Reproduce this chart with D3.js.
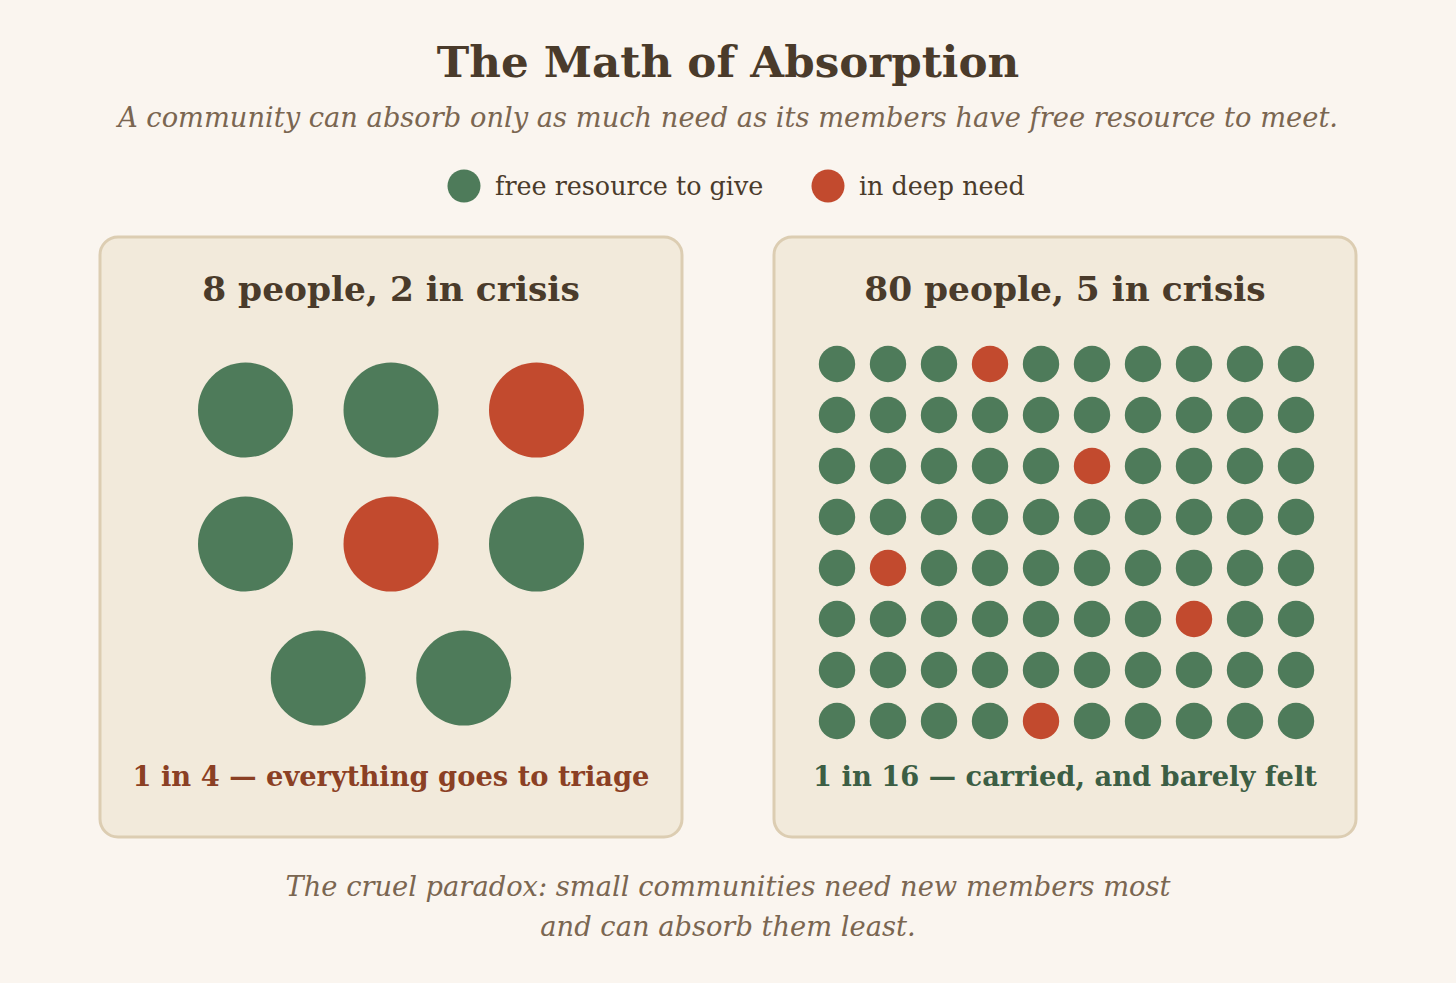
<!DOCTYPE html>
<html>
<head>
<meta charset="utf-8">
<script src="https://cdn.jsdelivr.net/npm/d3@7"></script>
<style>
  html, body { margin: 0; padding: 0; background: #faf5ef; }
  svg { display: block; }
  text { font-family: "DejaVu Serif", serif; }
</style>
</head>
<body>
<script>
// Datos de cada panel
const panelTitles = ["8 people, 2 in crisis", "80 people, 5 in crisis"];
const panelCaptions = ["1 in 4 \u2014 everything goes to triage", "1 in 16 \u2014 carried, and barely felt"];
const smallRows = [3, 3, 2];                 // personas por fila en la comunidad pequeña
const smallCrisis = [2, 4];                  // índices de personas en crisis
const bigCols = 10;
const bigRowsCount = 8;
const bigCrisis = [3, 25, 41, 57, 74];       // índices (fila*10+col) de personas en crisis
const legendLabels = ["free resource to give", "in deep need"];
const footerLines = [
  "The cruel paradox: small communities need new members most",
  "and can absorb them least."
];

const width = 1456;
const height = 983;
const green = "#4e7b5a";
const red = "#c24a2e";
const ink = "#4a3b2b";
const muted = "#7a6651";

const svg = d3.select("body").append("svg")
  .attr("width", width)
  .attr("height", height);

svg.append("rect").attr("width", width).attr("height", height).attr("fill", "#faf5ef");

// Título y subtítulo
svg.append("text")
  .attr("x", width / 2).attr("y", 77)
  .attr("text-anchor", "middle")
  .attr("font-size", 43.6).attr("font-weight", "bold")
  .attr("fill", ink)
  .text("The Math of Absorption");

svg.append("text")
  .attr("x", width / 2).attr("y", 127)
  .attr("text-anchor", "middle")
  .attr("font-size", 27.3).attr("font-style", "italic")
  .attr("fill", muted)
  .text("A community can absorb only as much need as its members have free resource to meet.");

// Leyenda
const legendX = d3.scaleOrdinal().domain(legendLabels).range([464, 828]);
const legendColor = d3.scaleOrdinal().domain(legendLabels).range([green, red]);
const legend = svg.selectAll("g.legend").data(legendLabels).enter()
  .append("g").attr("class", "legend")
  .attr("transform", d => `translate(${legendX(d)},186)`);
legend.append("circle").attr("r", 16.5).attr("fill", d => legendColor(d));
legend.append("text")
  .attr("x", 31).attr("y", 9)
  .attr("font-size", 25.4).attr("fill", ink)
  .text(d => d);

// Paneles
const panelX = d3.scaleBand().domain([0, 1]).range([100, 1356]).paddingInner(0.1365);
const panelTop = 237, panelH = 600;
const pw = panelX.bandwidth();

const panels = svg.selectAll("g.panel").data(panelTitles).enter()
  .append("g").attr("class", "panel")
  .attr("transform", (d, i) => `translate(${panelX(i)},${panelTop})`);

panels.append("rect")
  .attr("width", pw).attr("height", panelH)
  .attr("rx", 18).attr("ry", 18)
  .attr("fill", "#f2eadb")
  .attr("stroke", "#dccdb2").attr("stroke-width", 3);

panels.append("text")
  .attr("x", pw / 2).attr("y", 64)
  .attr("text-anchor", "middle")
  .attr("font-size", 34.4).attr("font-weight", "bold")
  .attr("fill", ink)
  .text(d => d);

panels.append("text")
  .attr("x", pw / 2).attr("y", 549)
  .attr("text-anchor", "middle")
  .attr("font-size", 27.3).attr("font-weight", "bold")
  .attr("fill", (d, i) => i === 0 ? "#8b4024" : "#3c5e44")
  .text((d, i) => panelCaptions[i]);

// Comunidad pequeña
const smallPeople = [];
smallRows.forEach((n, r) => {
  for (let c = 0; c < n; c++) smallPeople.push({ row: r, col: c, n: n });
});
smallPeople.forEach((p, i) => p.crisis = smallCrisis.includes(i));

const smallStep = 145.5;
const smallY = d3.scalePoint().domain(d3.range(smallRows.length)).range([173, 441]);

panels.filter((d, i) => i === 0).selectAll("circle")
  .data(smallPeople).enter()
  .append("circle")
  .attr("cx", p => pw / 2 + (p.col - (p.n - 1) / 2) * smallStep)
  .attr("cy", p => smallY(p.row))
  .attr("r", 47.5)
  .attr("fill", p => p.crisis ? red : green);

// Comunidad grande
const bigPeople = d3.range(bigCols * bigRowsCount).map(i => ({
  row: Math.floor(i / bigCols), col: i % bigCols, crisis: bigCrisis.includes(i)
}));
const bigX = d3.scalePoint().domain(d3.range(bigCols)).range([63, 522]);
const bigY = d3.scalePoint().domain(d3.range(bigRowsCount)).range([127, 484]);

panels.filter((d, i) => i === 1).selectAll("circle")
  .data(bigPeople).enter()
  .append("circle")
  .attr("cx", p => bigX(p.col))
  .attr("cy", p => bigY(p.row))
  .attr("r", 18.2)
  .attr("fill", p => p.crisis ? red : green);

// Pie
svg.selectAll("text.footer").data(footerLines).enter()
  .append("text").attr("class", "footer")
  .attr("x", width / 2)
  .attr("y", (d, i) => 896 + i * 40)
  .attr("text-anchor", "middle")
  .attr("font-size", 27.3).attr("font-style", "italic")
  .attr("fill", muted)
  .text(d => d);
</script>
</body>
</html>
